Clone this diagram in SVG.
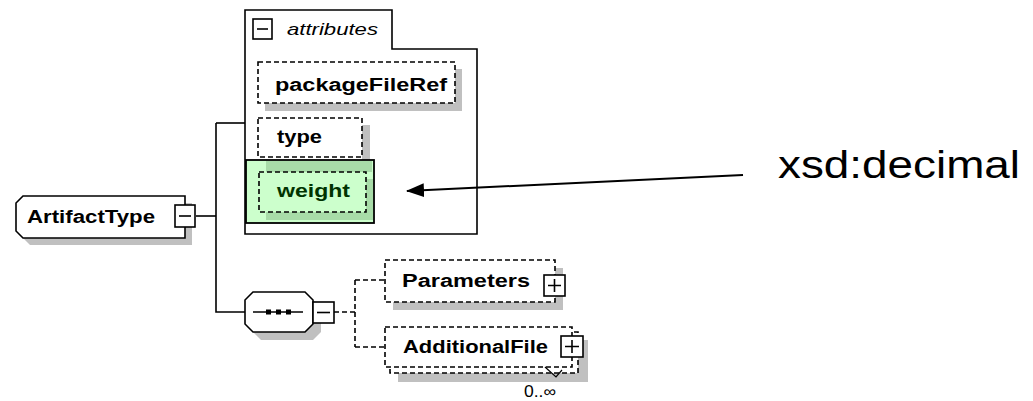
<svg xmlns="http://www.w3.org/2000/svg" width="1033" height="401" viewBox="0 0 1033 401">
<defs>
<style>
.ln{fill:none;stroke:#000;stroke-width:1.6}
.dl{fill:none;stroke:#000;stroke-width:1.6;stroke-dasharray:5,3}
.db{fill:#fff;stroke:#000;stroke-width:1.6;stroke-dasharray:5,3}
.sh{fill:#c0c0c0}
.box{fill:#fff;stroke:#000;stroke-width:1.6}
.lbl{font-family:"Liberation Sans",Arial,sans-serif;font-weight:bold;font-size:18px;fill:#000}
</style>
<marker id="ah" markerWidth="18" markerHeight="14" refX="17" refY="7" orient="auto" markerUnits="userSpaceOnUse">
<path d="M0,0 L18,7 L0,14 Z" fill="#000"/>
</marker>
</defs>
<rect width="1033" height="401" fill="#fff"/>

<g id="attributes">
<path class="box" d="M245,10 H392 V49 H477 V234 H245 Z"/>
<rect class="box" x="253" y="19" width="19" height="20"/>
<path class="ln" d="M257,29 H268"/>
<text x="287" y="35" font-family="'Liberation Sans',Arial,sans-serif" font-style="italic" font-size="17" textLength="91" lengthAdjust="spacingAndGlyphs">attributes</text>
</g>

<g id="packageFileRef">
<rect class="sh" x="265" y="103" width="197" height="8"/>
<rect class="sh" x="455" y="69" width="7" height="42"/>
<rect class="db" x="258" y="62" width="197" height="41"/>
<text class="lbl" x="275" y="91" textLength="172" lengthAdjust="spacingAndGlyphs">packageFileRef</text>
</g>

<g id="type">
<rect class="sh" x="362" y="125" width="8" height="39"/>
<rect class="db" x="258" y="118" width="104" height="39"/>
<text class="lbl" x="277" y="143" textLength="45" lengthAdjust="spacingAndGlyphs">type</text>
</g>

<g id="weight">
<rect x="246" y="160" width="128" height="63" fill="#ccffcc" stroke="#000" stroke-width="1.8"/>
<rect x="266" y="161" width="106" height="11" fill="#a8dca8"/>
<rect x="366" y="179" width="7" height="40" fill="#a8dca8"/>
<rect x="266" y="212" width="107" height="8" fill="#a8dca8"/>
<rect x="259" y="172" width="107" height="40" fill="#ccffcc" stroke="#000" stroke-width="1.6" stroke-dasharray="5,3"/>
<text class="lbl" x="277" y="197" textLength="73" lengthAdjust="spacingAndGlyphs" style="fill:#003300">weight</text>
</g>

<g id="ArtifactType">
<path class="sh" d="M30,203 H192 V245 H30 L23,238 V210 Z"/>
<path class="box" d="M23,196 H185 V238 H23 L16,231 V203 Z"/>
<text class="lbl" x="27" y="223" textLength="128" lengthAdjust="spacingAndGlyphs">ArtifactType</text>
<rect class="box" x="175" y="205" width="20" height="22"/>
<path class="ln" d="M179,216 H191"/>
</g>

<g id="sequence">
<path class="sh" d="M261,300 H313 L321,308 V332 L313,340 H261 L253,332 V308 Z"/>
<path class="box" d="M253,292 H305 L313,300 V324 L305,332 H253 L245,324 V300 Z"/>
<path class="ln" d="M253,312 H303"/>
<rect x="266" y="309.5" width="5" height="5" fill="#000"/>
<rect x="276" y="309.5" width="5" height="5" fill="#000"/>
<rect x="286" y="309.5" width="5" height="5" fill="#000"/>
<rect class="box" x="313" y="302" width="21" height="21"/>
<path class="ln" d="M317,312.5 H330"/>
</g>

<g id="Parameters">
<rect class="sh" x="393" y="302" width="170" height="8"/>
<rect class="sh" x="555" y="268" width="8" height="42"/>
<rect class="db" x="385" y="260" width="170" height="42"/>
<text class="lbl" x="402" y="287" textLength="128" lengthAdjust="spacingAndGlyphs">Parameters</text>
<rect class="box" x="544" y="275" width="21" height="21"/>
<path class="ln" d="M548,285.5 H561 M554.5,279 V292"/>
</g>

<g id="AdditionalFile">
<rect class="sh" x="398" y="373" width="190" height="9"/>
<rect class="sh" x="578" y="340" width="10" height="42"/>
<rect class="db" x="390" y="332" width="188" height="41"/>
<rect class="db" x="385" y="327" width="187" height="40"/>
<text class="lbl" x="403" y="353" textLength="145" lengthAdjust="spacingAndGlyphs">AdditionalFile</text>
<rect class="box" x="561" y="336" width="22" height="21"/>
<path class="ln" d="M565,346.5 H579 M572,340 V353"/>
<path d="M545,367 L556,377 L562,370" fill="none" stroke="#000" stroke-width="1.2"/>
<text x="524" y="397" font-family="'Liberation Sans',Arial,sans-serif" font-size="16" textLength="32" lengthAdjust="spacingAndGlyphs">0..∞</text>
</g>

<g id="xsd-decimal">
<text x="778" y="178" font-family="'Liberation Sans',Arial,sans-serif" font-size="38" textLength="242" lengthAdjust="spacingAndGlyphs">xsd:decimal</text>
</g>

<g id="connectors">
<path class="ln" d="M196,216 H216"/>
<path class="ln" d="M216,123 V312 H245"/>
<path class="ln" d="M216,123 H245"/>
<path class="dl" d="M334,312 H355 M355,280 V347 M355,280 H385 M355,347 H385"/>
<path d="M743,175 L407,191" fill="none" stroke="#000" stroke-width="2" marker-end="url(#ah)"/>
</g>
</svg>
